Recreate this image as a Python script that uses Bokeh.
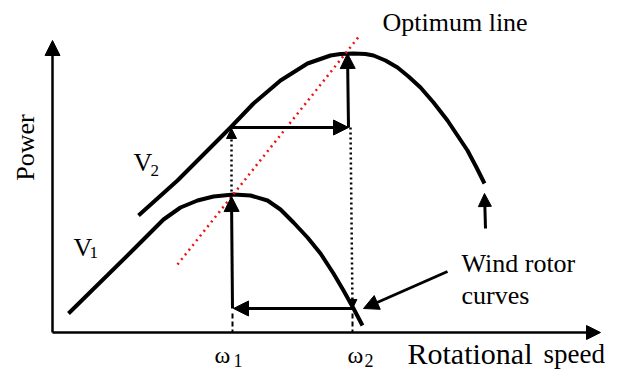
from math import pi
from bokeh.plotting import figure
from bokeh.models import Arrow, NormalHead, ColumnDataSource, Range1d
from bokeh.core.properties import value
from bokeh.embed import file_html
from bokeh.resources import INLINE

# ---- data (arbitrary units: rotational speed, power) ----
v1_speed = [16, 78, 98, 111, 128, 145, 161, 181, 198, 215, 228, 241, 255, 268, 281, 291, 301, 310]
v1_power = [19, 80, 100, 113, 125, 132, 136, 138, 137, 132, 123, 110, 95, 79, 59, 42, 24, 7]

v2_speed = [86, 125, 168, 178, 201, 228, 255, 278, 288, 301, 313, 321, 333, 345, 356, 368, 381, 395, 405, 415, 424, 432]
v2_power = [117, 152, 195, 205, 229, 252, 269, 277, 278.5, 279, 278.5, 277, 272, 265, 256, 245, 230, 212, 197, 182, 165, 149]

opt_speed = [125, 308]
opt_power = [68, 298]

w1, w2 = 179, 298          # omega_1, omega_2
p_v1_w1 = 136              # V1 power at omega_1 (optimum)
p_v2_w1 = 205              # V2 power at omega_1
p_v2_w2 = 279              # V2 power at omega_2 (optimum)
p_v1_w2 = 24               # V1 power at omega_2

axis_speed_max = 548
axis_power_max = 292

FONT = "Liberation Serif"
BASELINE_FIX = 0.3   # svg text sits ~0.3em low; raise labels by this fraction of font size

p = figure(width=616, height=370, x_range=Range1d(-52, 564), y_range=Range1d(-38, 332),
           x_axis_location=None, y_axis_location=None, toolbar_location=None,
           output_backend="svg", min_border=0, min_border_left=0, min_border_right=0,
           min_border_top=0, min_border_bottom=0)
p.grid.visible = False
p.outline_line_color = None
p.background_fill_color = "white"
p.border_fill_color = "white"


def arrow(x0, y0, x1, y1, size=15, width=3, dash="solid"):
    head = NormalHead(size=size, fill_color="black", line_color="black", line_width=1)
    p.add_layout(Arrow(end=head, x_start=x0, y_start=y0, x_end=x1, y_end=y1,
                       line_width=width, line_color="black", line_dash=dash))


# axes
arrow(0, 0, 0, axis_power_max, size=15, width=2.5)
arrow(0, 0, axis_speed_max, 0, size=14, width=2.5)

# curves
p.line(v1_speed, v1_power, line_width=4, line_color="black", line_join="round")
p.line(v2_speed, v2_power, line_width=4, line_color="black", line_join="round")

# optimum line
p.line(opt_speed, opt_power, line_width=2.5, line_color="#ee1111", line_dash="2 4")

# operating-point transitions
arrow(w1 + 1, p_v1_w2, w1, p_v1_w1)                              # up at omega1 on V1
arrow(w1, p_v1_w1, w1, p_v2_w1 - 1, size=10, width=2.5, dash="2 3")  # dotted up to V2
arrow(w1, p_v2_w1, w2 - 2, p_v2_w1)                              # right along V2 level
arrow(w2 - 2, p_v2_w1, w2 - 3, p_v2_w2)                          # up at omega2 to V2 peak
arrow(w2, p_v2_w1, w2 + 2, p_v1_w2, size=9, width=2.5, dash="2 3")   # dotted down to V1
arrow(w2 + 2, p_v1_w2, w1 + 2, p_v1_w2)                          # left along V1 level
p.segment(x0=[w1 + 1, w2 + 2], y0=[p_v1_w2 - 5, p_v1_w2 - 5], x1=[w1 + 1, w2 + 2], y1=[0, 0],
          line_width=2, line_color="black", line_dash="5 3")

# small up arrow at end of V2 and pointer to curves
arrow(433, 104, 432, 139, size=13, width=3)
arrow(395, 61, 311, 24, size=15, width=3)

# texts (baseline positions)
lab_text = ["V", "2", "V", "1", "Optimum line", "Wind rotor", "curves",
            "ω", "1", "ω", "2", "Rotational", "speed"]
lab_x = [81, 98, 21, 37, 330, 409, 409, 162, 181, 295, 312, 355, 491]
lab_y = [162, 157, 77, 75, 302, 61, 29, -30, -33, -30, -33, -30, -30]
lab_px = [26, 17, 26, 17, 26, 26, 26, 24, 18, 24, 18, 30, 27]

lab = ColumnDataSource(dict(
    x=lab_x,
    y=[y + BASELINE_FIX * s for y, s in zip(lab_y, lab_px)],
    text=lab_text,
    size=[f"{s}px" for s in lab_px],
))
p.text(x="x", y="y", text="text", text_font_size="size", text_font=value(FONT),
       text_align="left", text_baseline="alphabetic", text_color="black", source=lab)

p.text(x=[-19 - BASELINE_FIX * 26], y=[185], text=["Power"], angle=pi / 2, text_font_size="26px",
       text_font=value(FONT), text_align="center", text_baseline="alphabetic",
       text_color="black")

open("out.html", "w").write(file_html(p, INLINE))
